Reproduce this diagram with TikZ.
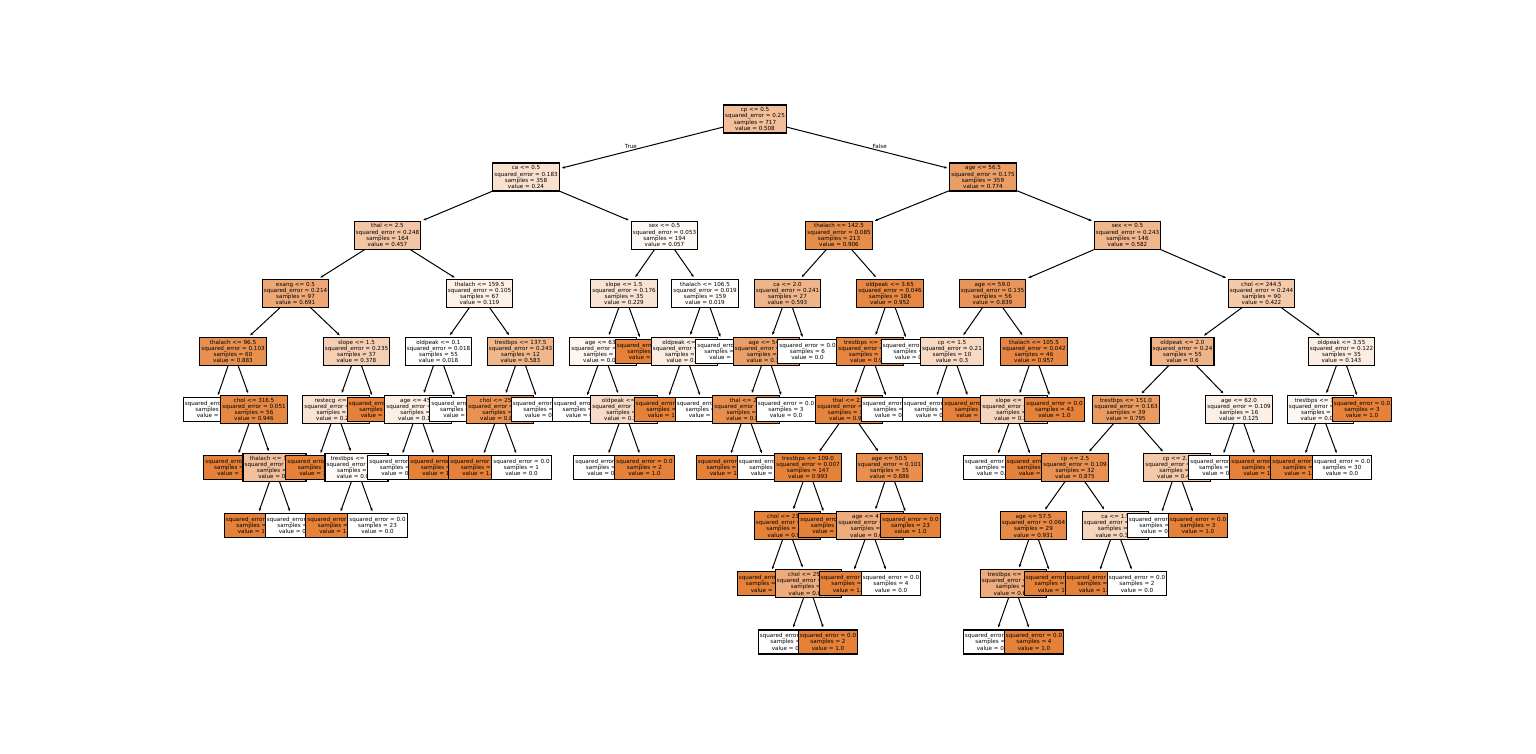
\documentclass[tikz,border=0pt]{standalone}
\usepackage{fontspec}
\setmainfont{DejaVu Sans}
\usetikzlibrary{arrows.meta}
\definecolor{treeor}{RGB}{229,129,57}
\pgfdeclarelayer{edges}
\pgfdeclarelayer{d1}\pgfdeclarelayer{d2}\pgfdeclarelayer{d3}
\pgfdeclarelayer{d4}\pgfdeclarelayer{d5}\pgfdeclarelayer{d6}
\pgfdeclarelayer{d7}\pgfdeclarelayer{d8}\pgfdeclarelayer{d9}
\pgfsetlayers{edges,d9,d8,d7,d6,d5,d4,d3,d2,d1,main}
\tikzset{
  treebox/.style={draw=black, line width=1.3pt, rectangle, align=center,
    font=\fontsize{5.6pt}{6.2pt}\selectfont, inner xsep=1.6pt, inner ysep=0pt},
  splitbox/.style={treebox, minimum height=28pt},
  leafbox/.style={treebox, minimum height=24pt},
  edge/.style={draw=black, line width=1pt, -{Stealth[length=3.2pt,width=2.6pt]}, shorten >=2pt},
  lbl/.style={font=\fontsize{5.6pt}{6.2pt}\selectfont, inner sep=0pt}
}
% split node: name, parent, depth, x, fill %, condition, error, samples, value
\newcommand\splitn[9]{%
  \begin{pgfonlayer}{d#3}
    \node[splitbox, fill=treeor!#5!white] (#1) at (#4, {119+58.1*#3})
      {#6\\squared\_error = #7\\samples = #8\\value = #9};
  \end{pgfonlayer}
  \begin{pgfonlayer}{edges}
    \draw[edge] (#2.center) -- (#1);
  \end{pgfonlayer}}
% leaf node: name, parent, depth, x, fill %, samples, value
\newcommand\leafn[7]{%
  \begin{pgfonlayer}{d#3}
    \node[leafbox, fill=treeor!#5!white] (#1) at (#4, {119+58.1*#3})
      {squared\_error = 0.0\\samples = #6\\value = #7};
  \end{pgfonlayer}
  \begin{pgfonlayer}{edges}
    \draw[edge] (#2.center) -- (#1);
  \end{pgfonlayer}}
\begin{document}
\begin{tikzpicture}[x=1pt, y=-1pt]
\begin{pgfonlayer}{edges}
  \fill[white] (0,0) rectangle (1536,754);
\end{pgfonlayer}
\useasboundingbox (0,0) rectangle (1536,754);

\node[splitbox, fill=treeor!50.8!white] (n0) at (755,119)
  {cp <= 0.5\\squared\_error = 0.25\\samples = 717\\value = 0.508};

\splitn{n1}{n0}{1}{526}{24}{ca <= 0.5}{0.183}{358}{0.24}
\splitn{n2}{n1}{2}{387.5}{45.7}{thal <= 2.5}{0.248}{164}{0.457}
\splitn{n3}{n2}{3}{295.5}{69.1}{exang <= 0.5}{0.214}{97}{0.691}
\splitn{n4}{n3}{4}{233}{88.3}{thalach <= 96.5}{0.103}{60}{0.883}
\leafn{n5}{n4}{5}{213}{0}{4}{0.0}
\splitn{n6}{n4}{5}{254}{94.6}{chol <= 316.5}{0.051}{56}{0.946}
\leafn{n7}{n6}{6}{233.5}{100}{50}{1.0}
\splitn{n8}{n6}{6}{274.5}{50}{thalach <= 145.5}{0.25}{6}{0.5}
\leafn{n9}{n8}{7}{254}{100}{3}{1.0}
\leafn{n10}{n8}{7}{295}{0}{3}{0.0}
\splitn{n11}{n3}{4}{356.5}{37.8}{slope <= 1.5}{0.235}{37}{0.378}
\splitn{n12}{n11}{5}{336}{23.3}{restecg <= 1.5}{0.179}{30}{0.233}
\leafn{n13}{n12}{6}{315.5}{100}{6}{1.0}
\splitn{n14}{n12}{6}{356.5}{4.2}{trestbps <= 108.0}{0.04}{24}{0.042}
\leafn{n15}{n14}{7}{335.5}{100}{1}{1.0}
\leafn{n16}{n14}{7}{377.5}{0}{23}{0.0}
\leafn{n17}{n11}{5}{377}{100}{7}{1.0}
\splitn{n18}{n2}{3}{479.5}{11.9}{thalach <= 159.5}{0.105}{67}{0.119}
\splitn{n19}{n18}{4}{438.5}{1.8}{oldpeak <= 0.1}{0.018}{55}{0.018}
\splitn{n20}{n19}{5}{418}{12.5}{age <= 45.5}{0.109}{8}{0.125}
\leafn{n21}{n20}{6}{397.5}{0}{7}{0.0}
\leafn{n22}{n20}{6}{438.5}{100}{1}{1.0}
\leafn{n23}{n19}{5}{459.5}{0}{47}{0.0}
\splitn{n24}{n18}{4}{520.5}{58.3}{trestbps <= 137.5}{0.243}{12}{0.583}
\splitn{n25}{n24}{5}{500}{87.5}{chol <= 253.0}{0.109}{8}{0.875}
\leafn{n26}{n25}{6}{478.5}{100}{7}{1.0}
\leafn{n27}{n25}{6}{521.5}{0}{1}{0.0}
\leafn{n28}{n24}{5}{541}{0}{4}{0.0}
\splitn{n29}{n1}{2}{664.5}{5.7}{sex <= 0.5}{0.053}{194}{0.057}
\splitn{n30}{n29}{3}{624}{22.9}{slope <= 1.5}{0.176}{35}{0.229}
\splitn{n31}{n30}{4}{603}{6.9}{age <= 63.5}{0.064}{29}{0.069}
\leafn{n32}{n31}{5}{582}{0}{22}{0.0}
\splitn{n33}{n31}{5}{624}{28.6}{oldpeak <= 1.9}{0.204}{7}{0.286}
\leafn{n34}{n33}{6}{603.5}{0}{5}{0.0}
\leafn{n35}{n33}{6}{644.5}{100}{2}{1.0}
\leafn{n36}{n30}{4}{645}{100}{6}{1.0}
\splitn{n37}{n29}{3}{705}{1.9}{thalach <= 106.5}{0.019}{159}{0.019}
\splitn{n38}{n37}{4}{684.5}{15}{oldpeak <= 1.7}{0.127}{20}{0.15}
\leafn{n39}{n38}{5}{664}{100}{3}{1.0}
\leafn{n40}{n38}{5}{705}{0}{17}{0.0}
\leafn{n41}{n37}{4}{725.5}{0}{139}{0.0}
\splitn{n42}{n0}{1}{983}{77.4}{age <= 56.5}{0.175}{359}{0.774}
\splitn{n43}{n42}{2}{839}{90.6}{thalach <= 142.5}{0.085}{213}{0.906}
\splitn{n44}{n43}{3}{787.5}{59.3}{ca <= 2.0}{0.241}{27}{0.593}
\splitn{n45}{n44}{4}{766.5}{76.2}{age <= 54.5}{0.181}{21}{0.762}
\splitn{n46}{n45}{5}{746}{88.9}{thal <= 2.5}{0.099}{18}{0.889}
\leafn{n47}{n46}{6}{726}{100}{16}{1.0}
\leafn{n48}{n46}{6}{767}{0}{2}{0.0}
\leafn{n49}{n45}{5}{786}{0}{3}{0.0}
\leafn{n50}{n44}{4}{807.5}{0}{6}{0.0}
\splitn{n51}{n43}{3}{890}{95.2}{oldpeak <= 3.65}{0.046}{186}{0.952}
\splitn{n52}{n51}{4}{870}{96.2}{trestbps <= 174.0}{0.037}{184}{0.962}
\splitn{n53}{n52}{5}{849}{97.3}{thal <= 2.5}{0.026}{182}{0.973}
\splitn{n54}{n53}{6}{808}{99.3}{trestbps <= 109.0}{0.007}{147}{0.993}
\splitn{n55}{n54}{7}{787.5}{99.3}{chol <= 233.5}{0.007}{145}{0.993}
\leafn{n56}{n55}{8}{767}{100}{142}{1.0}
\splitn{n57}{n55}{8}{808.5}{66.7}{chol <= 253.0}{0.222}{3}{0.667}
\leafn{n58}{n57}{9}{788}{0}{1}{0.0}
\leafn{n59}{n57}{9}{828}{100}{2}{1.0}
\leafn{n60}{n54}{7}{828.5}{100}{2}{1.0}
\splitn{n61}{n53}{6}{889.5}{88.6}{age <= 50.5}{0.101}{35}{0.886}
\splitn{n62}{n61}{7}{870}{66.7}{age <= 47.5}{0.222}{12}{0.667}
\leafn{n63}{n62}{8}{849}{100}{8}{1.0}
\leafn{n64}{n62}{8}{891}{0}{4}{0.0}
\leafn{n65}{n61}{7}{910.5}{100}{23}{1.0}
\leafn{n66}{n52}{5}{891}{0}{2}{0.0}
\leafn{n67}{n51}{4}{911}{0}{2}{0.0}
\splitn{n68}{n42}{2}{1127.5}{58.2}{sex <= 0.5}{0.243}{146}{0.582}
\splitn{n69}{n68}{3}{992.5}{83.9}{age <= 59.0}{0.135}{56}{0.839}
\splitn{n70}{n69}{4}{952}{30}{cp <= 1.5}{0.21}{10}{0.3}
\leafn{n71}{n70}{5}{932}{0}{7}{0.0}
\leafn{n72}{n70}{5}{972.5}{100}{3}{1.0}
\splitn{n73}{n69}{4}{1034}{95.7}{thalach <= 105.5}{0.042}{46}{0.957}
\splitn{n74}{n73}{5}{1014}{33.3}{slope <= 1.5}{0.222}{3}{0.333}
\leafn{n75}{n74}{6}{993}{0}{2}{0.0}
\leafn{n76}{n74}{6}{1035}{100}{1}{1.0}
\leafn{n77}{n73}{5}{1054.5}{100}{43}{1.0}
\splitn{n78}{n68}{3}{1261.5}{42.2}{chol <= 244.5}{0.244}{90}{0.422}
\splitn{n79}{n78}{4}{1182.5}{60}{oldpeak <= 2.0}{0.24}{55}{0.6}
\splitn{n80}{n79}{5}{1126}{79.5}{trestbps <= 151.0}{0.163}{39}{0.795}
\splitn{n81}{n80}{6}{1075}{87.5}{cp <= 2.5}{0.109}{32}{0.875}
\splitn{n82}{n81}{7}{1033.5}{93.1}{age <= 57.5}{0.064}{29}{0.931}
\splitn{n83}{n82}{8}{1013.5}{66.7}{trestbps <= 117.0}{0.222}{6}{0.667}
\leafn{n84}{n83}{9}{993}{0}{2}{0.0}
\leafn{n85}{n83}{9}{1034}{100}{4}{1.0}
\leafn{n86}{n82}{8}{1054}{100}{23}{1.0}
\splitn{n87}{n81}{7}{1115.5}{33.3}{ca <= 1.5}{0.222}{3}{0.333}
\leafn{n88}{n87}{8}{1095}{100}{1}{1.0}
\leafn{n89}{n87}{8}{1137}{0}{2}{0.0}
\splitn{n90}{n80}{6}{1177}{42.9}{cp <= 2.5}{0.245}{7}{0.429}
\leafn{n91}{n90}{7}{1157}{0}{4}{0.0}
\leafn{n92}{n90}{7}{1198}{100}{3}{1.0}
\splitn{n93}{n79}{5}{1239}{12.5}{age <= 62.0}{0.109}{16}{0.125}
\leafn{n94}{n93}{6}{1218.5}{0}{14}{0.0}
\leafn{n95}{n93}{6}{1259.5}{100}{2}{1.0}
\splitn{n96}{n78}{4}{1341.5}{14.3}{oldpeak <= 3.55}{0.122}{35}{0.143}
\splitn{n97}{n96}{5}{1320.5}{6.2}{trestbps <= 109.0}{0.059}{32}{0.062}
\leafn{n98}{n97}{6}{1300.5}{100}{2}{1.0}
\leafn{n99}{n97}{6}{1342}{0}{30}{0.0}
\leafn{n100}{n96}{5}{1362}{100}{3}{1.0}

% branch labels on the two edges below the root
\node[lbl, anchor=base east] (ltrue) at (637,148.5) {True};
\node[lbl, anchor=base west] (lfalse) at (872.5,148.5) {False};
\end{tikzpicture}
\end{document}
